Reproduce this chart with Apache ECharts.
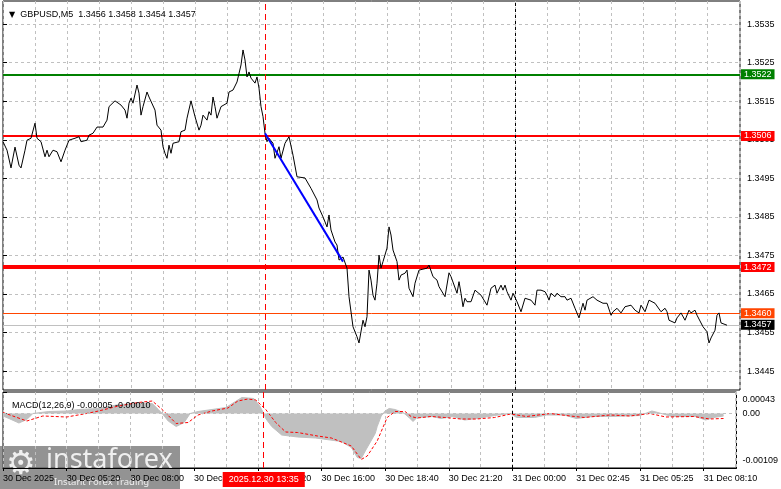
<!DOCTYPE html>
<html><head><meta charset="utf-8">
<script src="https://cdn.jsdelivr.net/npm/echarts@6/dist/echarts.min.js"></script>
<style>html,body{margin:0;padding:0;background:#fff}#c{width:781px;height:489px}</style>
</head><body><div id="c"></div>
<script>
// ---------- data ----------
const symbolTitle = 'GBPUSD,M5';
const ohlc = [1.3456, 1.3458, 1.3454, 1.3457];
const macdTitle = 'MACD(12,26,9)';
const macdLast = [-0.00005, -0.00010];

const timeLabels = ['30 Dec 2025','30 Dec 05:20','30 Dec 08:00','30 Dec 10:40','30 Dec 13:20','30 Dec 16:00',
  '30 Dec 18:40','30 Dec 21:20','31 Dec 00:00','31 Dec 02:45','31 Dec 05:25','31 Dec 08:10'];
const priceTicks = [1.3445,1.3455,1.3465,1.3475,1.3485,1.3495,1.3505,1.3515,1.3525,1.3535];
const macdTicks = [-0.00109, 0, 0.00043];

// bar number (5-minute bars from the left edge) and close price
const priceBars = [0,2,4,6,7,8,9,11,12,14,16,17,19,21,22,23,25,27,28,29,31,33,36,38,39,42,43,45,47,50,52,53,56,57,59,61,62,63,64,65,67,68,69,70,72,73,74,76,77,78,79,80,81,82,83,84,85,86,88,89,91,92,94,95,96,98,99,100,102,103,104,105,106,107,109,112,113,115,117,118,119,120,121,122,123,124,125,126,127,128,129,130,131,132,133,135,136,138,139,141,143,145,147,151,152,154,157,158,160,162,163,164,166,167,168,170,171,172,173,175,177,178,179,180,181,182,183,184,185,186,187,188,189,190,192,193,194,195,197,198,199,201,202,203,205,206,208,212,213,215,217,218,221,223,224,225,227,228,229,230,231,232,234,236,237,239,242,243,244,246,247,249,250,251,252,254,255,257,259,261,262,264,265,266,267,269,271,272,273,274,276,277,279,281,282,284,286,288,290,291,292,295,297,298,300,302,304,305,307,309,311,312,314,316,318,319,321,323,324,326,327,329,331,332,333,336,337,339,341,343,344,346,347,350,352,353,354,356,357,358,359,360,362];
const priceClose = [1.35045,1.35023,1.34977,1.35031,1.35028,1.34984,1.34977,1.35023,1.35049,1.35054,1.35093,1.35054,1.35045,1.35006,1.35023,1.35006,1.35023,1.35019,1.35023,1.34993,1.35023,1.35049,1.35054,1.35058,1.35045,1.35049,1.35062,1.35067,1.35083,1.35083,1.35101,1.35136,1.35151,1.35148,1.35140,1.35127,1.35106,1.35145,1.35158,1.35145,1.35192,1.35171,1.35114,1.35136,1.35174,1.35161,1.35161,1.35127,1.35088,1.35084,1.35075,1.35032,1.35015,1.35002,1.35036,1.35015,1.35041,1.35045,1.35045,1.35071,1.35075,1.35106,1.35151,1.35148,1.35110,1.35075,1.35088,1.35114,1.35101,1.35123,1.35114,1.35161,1.35136,1.35106,1.35136,1.35145,1.35174,1.35179,1.35200,1.35197,1.35244,1.35283,1.35257,1.35213,1.35226,1.35210,1.35213,1.35197,1.35213,1.35184,1.35136,1.35110,1.35067,1.35045,1.35054,1.35041,1.35002,1.35032,1.35002,1.35041,1.35058,1.35010,1.34954,1.34951,1.34954,1.34924,1.34894,1.34873,1.34850,1.34824,1.34855,1.34816,1.34785,1.34777,1.34738,1.34746,1.34751,1.34717,1.34643,1.34565,1.34539,1.34523,1.34523,1.34582,1.34565,1.34591,1.34712,1.34686,1.34647,1.34634,1.34678,1.34751,1.34717,1.34734,1.34769,1.34824,1.34803,1.34764,1.34734,1.34686,1.34699,1.34704,1.34712,1.34665,1.34643,1.34678,1.34712,1.34717,1.34725,1.34695,1.34686,1.34669,1.34643,1.34705,1.34695,1.34691,1.34652,1.34682,1.34652,1.34617,1.34639,1.34630,1.34630,1.34660,1.34656,1.34647,1.34621,1.34621,1.34665,1.34673,1.34652,1.34673,1.34660,1.34673,1.34656,1.34634,1.34652,1.34630,1.34604,1.34639,1.34639,1.34634,1.34639,1.34621,1.34660,1.34660,1.34656,1.34647,1.34634,1.34652,1.34643,1.34652,1.34643,1.34643,1.34634,1.34639,1.34613,1.34588,1.34626,1.34608,1.34634,1.34643,1.34634,1.34639,1.34626,1.34626,1.34595,1.34604,1.34613,1.34601,1.34617,1.34613,1.34621,1.34608,1.34601,1.34621,1.34604,1.34634,1.34639,1.34626,1.34621,1.34604,1.34613,1.34604,1.34582,1.34575,1.34588,1.34601,1.34582,1.34608,1.34601,1.34608,1.34595,1.34565,1.34552,1.34523,1.34536,1.34556,1.34595,1.34601,1.34575,1.34575,1.34569];

const trendBars = [131, 170];
const trendPrices = [1.35067, 1.34734];
const levelPrices = [1.3522, 1.3506, 1.3472, 1.3460];
const lastPrice = 1.3457;
const cursorBar = 131;
const cursorLabel = '2025.12.30 13:35';
const dayBreakBar = 256;

const histBars = [0,3,8,12,15,23,32,38,48,57,65,75,78,80,83,87,91,94,98,112,120,126,129,131,132,135,140,148,157,170,175,178,180,182,187,188,190,192,194,197,201,204,206,208,216,220,226,232,238,247,255,258,267,273,282,288,296,305,320,326,329,336,348,353,357,362];
const histValues = [-0.00005,-0.00010,-0.00019,-0.00012,0,0.00004,0.00005,0.00008,0.00010,0.00017,0.00020,0.00020,0.00008,0,-0.00015,-0.00026,-0.00018,0,0.00004,0.00012,0.00032,0.00030,0.00015,0,-0.00010,-0.00026,-0.00043,-0.00047,-0.00049,-0.00056,-0.00068,-0.00088,-0.00090,-0.00075,-0.00040,-0.00026,-0.00005,0.00005,0.00010,0.00008,0.00002,-0.00008,-0.00016,-0.00008,-0.00006,-0.00010,-0.00006,-0.00013,-0.00010,-0.00004,0,-0.00008,-0.00008,-0.00003,-0.00003,-0.00010,-0.00006,-0.00006,-0.00004,0.00005,0.00002,-0.00006,-0.00006,-0.00013,-0.00008,-0.00005];
const sigBars = [0,12,20,32,42,48,58,68,75,80,87,93,98,105,113,118,123,127,132,137,142,148,158,165,175,180,183,188,193,197,202,205,208,215,222,230,238,247,255,263,275,285,292,305,315,325,333,347,355,362];
const sigValues = [0.00002,-0.00015,-0.00005,-0.00007,0,0.00005,0.00015,0.00022,0.00025,0.00008,-0.00020,-0.00018,-0.00003,0.00005,0.00011,0.00025,0.00029,0.00027,0.00008,-0.00018,-0.00037,-0.00038,-0.00045,-0.00049,-0.00065,-0.00092,-0.00085,-0.00055,-0.00008,0.00004,0.00004,-0.00006,-0.00009,-0.00006,-0.00008,-0.00011,-0.00011,-0.00008,-0.00001,-0.00006,0,-0.00005,-0.00008,-0.00003,-0.00005,0,-0.00007,-0.00006,-0.00011,-0.00010];

// ---------- styles ----------
const FONT = 'Liberation Sans';
const FS = 9;
const levelColors = ['#008000', '#ff0000', '#ff0000', '#ff4500'];
const levelWidths = [2, 2, 4, 1];
const gridDash = { color: '#c0c0c0', type: [3, 3], width: 1 };
const X_MAX = 368.5;

const chart = echarts.init(document.getElementById('c'), null, { renderer: 'canvas' });

const boxLabel = (text, bg) => ({ show: true, position: 'end', distance: 1, formatter: text, color: '#fff',
  backgroundColor: bg, padding: [1, 3, 0, 3], fontSize: FS, fontFamily: FONT });
const levelLines = levelPrices.map((v, i) => ({
  yAxis: v,
  lineStyle: { color: levelColors[i], width: levelWidths[i], type: 'solid' },
  label: boxLabel(v.toFixed(4), levelColors[i])
}));
levelLines.push({
  yAxis: lastPrice,
  lineStyle: { color: '#c0c0c0', width: 1, type: 'solid' },
  label: boxLabel(lastPrice.toFixed(4), '#000')
});
const vLines = (withLabel) => [
  { xAxis: dayBreakBar, lineStyle: { color: '#000', type: [3, 3], width: 1 }, label: { show: false } },
  { xAxis: cursorBar, lineStyle: { color: '#ff0000', type: [6, 4], width: 1 },
    label: withLabel ? { show: true, position: 'start', distance: 4, formatter: cursorLabel, color: '#fff',
      backgroundColor: '#ff0000', padding: [3, 6, 3, 6], fontSize: FS, fontFamily: FONT } : { show: false } }
];

const option = {
  animation: false,
  backgroundColor: '#fff',
  textStyle: { fontFamily: FONT },
  title: [
    { text: '{t|▼}  ' + symbolTitle + '  ' + ohlc.map(v => v.toFixed(4)).join(' '), left: 4, top: 5,
      textStyle: { fontSize: FS, fontWeight: 'normal', color: '#000', fontFamily: FONT,
        rich: { t: { fontSize: 8, fontFamily: 'DejaVu Sans', color: '#000' } } } },
    { text: macdTitle + ' ' + macdLast.map(v => v.toFixed(5)).join(' '), left: 7, top: 396,
      textStyle: { fontSize: FS, fontWeight: 'normal', color: '#000', fontFamily: FONT } }
  ],
  grid: [
    { left: 3, right: 41, top: 1, height: 389, show: true, borderColor: '#000', borderWidth: 1 },
    { left: 3, right: 41, top: 392, height: 76, show: true, borderColor: '#000', borderWidth: 1 }
  ],
  xAxis: [
    { type: 'value', gridIndex: 0, min: 0, max: X_MAX, interval: 16,
      axisLine: { show: false }, axisTick: { show: false }, axisLabel: { show: false },
      splitLine: { show: true, lineStyle: gridDash } },
    { type: 'value', gridIndex: 1, min: 0, max: X_MAX, interval: 16,
      axisLine: { show: false }, axisTick: { show: false }, axisLabel: { show: false },
      splitLine: { show: true, lineStyle: gridDash } },
    { type: 'value', gridIndex: 1, min: 0, max: X_MAX, interval: 32, position: 'bottom',
      axisLine: { show: true, onZero: false, lineStyle: { color: '#000', width: 1 } },
      axisTick: { show: true, length: 3, lineStyle: { color: '#000' } },
      axisLabel: { show: true, showMaxLabel: false, align: 'left', margin: 6, fontSize: FS, color: '#000', fontFamily: FONT,
        formatter: v => (v % 32 === 0 && timeLabels[v / 32]) ? timeLabels[v / 32] : '' },
      splitLine: { show: false } }
  ],
  yAxis: [
    { type: 'value', gridIndex: 0, position: 'right', min: 1.34401, max: 1.35410, scale: true,
      axisLine: { show: false },
      axisTick: { show: true, length: 4, customValues: priceTicks, lineStyle: { color: '#000' } },
      axisLabel: { show: true, customValues: priceTicks, margin: 7, fontSize: FS, color: '#000', fontFamily: FONT,
        formatter: v => v.toFixed(4) },
      splitLine: { show: true, lineStyle: gridDash } },
    { type: 'value', gridIndex: 1, position: 'right', min: macdTicks[0], max: macdTicks[2],
      axisLine: { show: false },
      axisTick: { show: true, length: 4, customValues: macdTicks, lineStyle: { color: '#000' } },
      axisLabel: { show: true, customValues: macdTicks, margin: 6, fontSize: FS, color: '#000', fontFamily: FONT,
        formatter: v => v === 0 ? '{m|0.00}' : (v > 0 ? '{hi|' + v.toFixed(5) + '}' : '{lo|' + v.toFixed(5) + '}'),
        rich: { m: { fontSize: FS }, hi: { fontSize: FS, padding: [16, 0, 0, 0] }, lo: { fontSize: FS, padding: [0, 0, 14, 0] } } },
      splitLine: { show: false } }
  ],
  series: [
    { name: 'price', type: 'line', xAxisIndex: 0, yAxisIndex: 0, showSymbol: false, symbol: 'none',
      data: priceBars.map((b, i) => [b, priceClose[i]]),
      lineStyle: { color: '#000', width: 1 }, z: 5,
      markLine: { symbol: 'none', silent: true, animation: false, precision: 6, data: levelLines.concat(vLines(false)) } },
    { name: 'trend', type: 'line', xAxisIndex: 0, yAxisIndex: 0, showSymbol: false, symbol: 'none',
      data: trendBars.map((b, i) => [b, trendPrices[i]]),
      lineStyle: { color: '#0000ff', width: 2 }, z: 6 },
    { name: 'MACD', type: 'line', xAxisIndex: 1, yAxisIndex: 1, showSymbol: false, symbol: 'none',
      data: histBars.map((b, i) => [b, histValues[i]]),
      lineStyle: { color: '#c0c0c0', width: 1 }, areaStyle: { color: '#c0c0c0', opacity: 1, origin: 0 }, z: 3,
      markLine: { symbol: 'none', silent: true, animation: false, precision: 6,
        data: [{ yAxis: 0, lineStyle: { color: '#c0c0c0', type: [3, 3], width: 1 }, label: { show: false } }].concat(vLines(true)) } },
    { name: 'Signal', type: 'line', xAxisIndex: 1, yAxisIndex: 1, showSymbol: false, symbol: 'none',
      data: sigBars.map((b, i) => [b, sigValues[i]]),
      lineStyle: { color: '#ff0000', width: 1, type: [3, 2] }, z: 4 }
  ],
  graphic: [
    { type: 'group', left: 0, bottom: 0, z: 100, children: [
      { type: 'rect', shape: { x: 0, y: 0, width: 180, height: 43 }, style: { fill: 'rgba(105,105,105,0.72)' } },
      { type: 'text', x: 6, y: 3, style: { text: '⚙', fontSize: 33, fontFamily: 'DejaVu Sans', fill: 'rgba(255,255,255,0.85)' } },
      { type: 'text', x: 46, y: 1, style: { text: 'instaforex', fontSize: 27, fontFamily: 'Noto Sans', fill: 'rgba(255,255,255,0.85)' } },
      { type: 'text', x: 54, y: 31, style: { text: 'Instant Forex Trading', fontSize: 9.5, fontFamily: 'Noto Sans', fill: 'rgba(255,255,255,0.85)' } }
    ] }
  ]
};
chart.setOption(option);
</script>
</body></html>
